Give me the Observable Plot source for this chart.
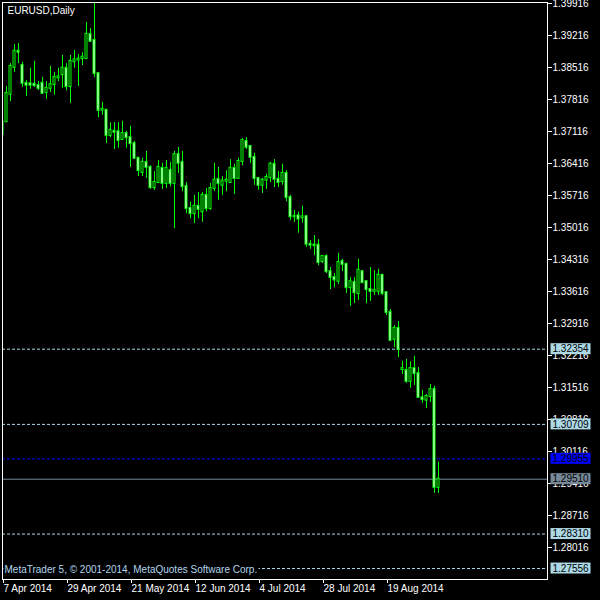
<!DOCTYPE html>
<html>
<head>
<meta charset="utf-8">
<script src="https://cdn.jsdelivr.net/npm/d3@7"></script>
<script src="https://cdn.jsdelivr.net/npm/@observablehq/plot@0.6"></script>
<style>
  html, body { margin: 0; padding: 0; background: #000; }
  svg { display: block; }
</style>
</head>
<body>
<div id="chart"></div>
<script>
// ---- data (EURUSD daily, 7 Apr 2014 - 5 Sep 2014) ----
const dates = [
"2014-04-07","2014-04-08","2014-04-09","2014-04-10","2014-04-11",
"2014-04-14","2014-04-15","2014-04-16","2014-04-17","2014-04-18",
"2014-04-21","2014-04-22","2014-04-23","2014-04-24","2014-04-25",
"2014-04-28","2014-04-29","2014-04-30","2014-05-01","2014-05-02",
"2014-05-05","2014-05-06","2014-05-07","2014-05-08","2014-05-09",
"2014-05-12","2014-05-13","2014-05-14","2014-05-15","2014-05-16",
"2014-05-19","2014-05-20","2014-05-21","2014-05-22","2014-05-23",
"2014-05-26","2014-05-27","2014-05-28","2014-05-29","2014-05-30",
"2014-06-02","2014-06-03","2014-06-04","2014-06-05","2014-06-06",
"2014-06-09","2014-06-10","2014-06-11","2014-06-12","2014-06-13",
"2014-06-16","2014-06-17","2014-06-18","2014-06-19","2014-06-20",
"2014-06-23","2014-06-24","2014-06-25","2014-06-26","2014-06-27",
"2014-06-30","2014-07-01","2014-07-02","2014-07-03","2014-07-04",
"2014-07-07","2014-07-08","2014-07-09","2014-07-10","2014-07-11",
"2014-07-14","2014-07-15","2014-07-16","2014-07-17","2014-07-18",
"2014-07-21","2014-07-22","2014-07-23","2014-07-24","2014-07-25",
"2014-07-28","2014-07-29","2014-07-30","2014-07-31","2014-08-01",
"2014-08-04","2014-08-05","2014-08-06","2014-08-07","2014-08-08",
"2014-08-11","2014-08-12","2014-08-13","2014-08-14","2014-08-15",
"2014-08-18","2014-08-19","2014-08-20","2014-08-21","2014-08-22",
"2014-08-25","2014-08-26","2014-08-27","2014-08-28","2014-08-29",
"2014-09-01","2014-09-02","2014-09-03","2014-09-04","2014-09-05"
];
const open = [
1.3705,1.3733,1.3793,1.3852,1.3887, 1.3856,1.3817,1.3816,1.3815,1.3812,
1.3817,1.3797,1.3806,1.3814,1.3829, 1.3836,1.3850,1.3810,1.3864,1.3868,
1.3871,1.3871,1.3924,1.3911,1.3838, 1.3758,1.3758,1.3703,1.3712,1.3711,
1.3694,1.3707,1.3698,1.3685,1.3653, 1.3622,1.3644,1.3633,1.3589,1.3600,
1.3631,1.3598,1.3626,1.3598,1.3661, 1.3644,1.3591,1.3543,1.3532,1.3548,
1.3536,1.3572,1.3543,1.3587,1.3607, 1.3594,1.3603,1.3600,1.3631,1.3609,
1.3646,1.3690,1.3679,1.3655,1.3609, 1.3594,1.3605,1.3611,1.3640,1.3607,
1.3602,1.3620,1.3567,1.3525,1.3527, 1.3523,1.3525,1.3465,1.3463,1.3463,
1.3427,1.3438,1.3405,1.3392,1.3384, 1.3427,1.3421,1.3370,1.3381,1.3357,
1.3405,1.3383,1.3366,1.3362,1.3362, 1.3397,1.3359,1.3316,1.3257,1.3281,
1.3191,1.3189,1.3165,1.3193,1.3182, 1.3129,1.3124,1.3132,1.3147,1.2933
];
const high = [
1.3740,1.3810,1.3860,1.3902,1.3904, 1.3863,1.3823,1.3850,1.3865,1.3821,
1.3830,1.3821,1.3854,1.3841,1.3850, 1.3878,1.3860,1.3878,1.3889,1.3880,
1.3884,1.3950,1.3937,1.3992,1.3841, 1.3775,1.3760,1.3731,1.3731,1.3731,
1.3734,1.3712,1.3723,1.3690,1.3655, 1.3653,1.3668,1.3637,1.3624,1.3648,
1.3642,1.3648,1.3644,1.3668,1.3677, 1.3668,1.3600,1.3557,1.3572,1.3578,
1.3578,1.3587,1.3598,1.3642,1.3633, 1.3613,1.3626,1.3650,1.3640,1.3653,
1.3696,1.3698,1.3681,1.3664,1.3611, 1.3609,1.3618,1.3644,1.3650,1.3624,
1.3640,1.3626,1.3572,1.3539,1.3535, 1.3548,1.3528,1.3473,1.3484,1.3475,
1.3440,1.3442,1.3414,1.3401,1.3445, 1.3432,1.3423,1.3392,1.3392,1.3432,
1.3407,1.3385,1.3414,1.3407,1.3410, 1.3399,1.3360,1.3322,1.3287,1.3296,
1.3209,1.3213,1.3208,1.3220,1.3195, 1.3145,1.3136,1.3158,1.3154,1.2988
];
const low = [
1.3698,1.3731,1.3777,1.3841,1.3860, 1.3808,1.3788,1.3804,1.3808,1.3801,
1.3793,1.3782,1.3797,1.3791,1.3821, 1.3806,1.3801,1.3773,1.3850,1.3810,
1.3856,1.3869,1.3907,1.3830,1.3742, 1.3747,1.3685,1.3698,1.3672,1.3675,
1.3692,1.3675,1.3633,1.3650,1.3613, 1.3613,1.3609,1.3585,1.3583,1.3598,
1.3585,1.3587,1.3591,1.3499,1.3620, 1.3580,1.3532,1.3521,1.3510,1.3521,
1.3513,1.3536,1.3539,1.3580,1.3561, 1.3572,1.3580,1.3598,1.3574,1.3609,
1.3637,1.3672,1.3642,1.3594,1.3583, 1.3576,1.3585,1.3600,1.3589,1.3589,
1.3594,1.3558,1.3517,1.3513,1.3489, 1.3511,1.3458,1.3454,1.3440,1.3418,
1.3423,1.3401,1.3366,1.3370,1.3377, 1.3405,1.3357,1.3329,1.3335,1.3342,
1.3379,1.3335,1.3340,1.3353,1.3353, 1.3353,1.3309,1.3252,1.3239,1.3217,
1.3180,1.3161,1.3150,1.3156,1.3130, 1.3117,1.3106,1.3119,1.2920,1.2920
];
const close = [
1.3732,1.3795,1.3854,1.3887,1.3885, 1.3817,1.3813,1.3813,1.3812,1.3806,
1.3795,1.3806,1.3814,1.3830,1.3831, 1.3850,1.3810,1.3865,1.3868,1.3870,
1.3874,1.3924,1.3909,1.3838,1.3758, 1.3760,1.3703,1.3714,1.3710,1.3692,
1.3707,1.3698,1.3685,1.3653,1.3626, 1.3644,1.3633,1.3589,1.3600,1.3633,
1.3598,1.3631,1.3598,1.3661,1.3642, 1.3591,1.3543,1.3532,1.3548,1.3541,
1.3572,1.3543,1.3587,1.3605,1.3598, 1.3603,1.3605,1.3631,1.3609,1.3646,
1.3692,1.3677,1.3655,1.3609,1.3594, 1.3605,1.3611,1.3640,1.3607,1.3600,
1.3620,1.3567,1.3525,1.3526,1.3520, 1.3525,1.3465,1.3463,1.3462,1.3425,
1.3438,1.3405,1.3392,1.3387,1.3425, 1.3421,1.3370,1.3383,1.3359,1.3408,
1.3381,1.3366,1.3362,1.3364,1.3397, 1.3357,1.3316,1.3255,1.3281,1.3235,
1.3193,1.3165,1.3193,1.3182,1.3130, 1.3125,1.3132,1.3147,1.2933,1.2951
];

// price-scale tick labels
const priceTicks = [1.39916,1.39216,1.38516,1.37816,1.37116,1.36416,1.35716,1.35016,
  1.34316,1.33616,1.32916,1.32216,1.31516,1.30816,1.30116,1.29416,1.28716,1.28016];
// date-scale tick labels
const dateTicks = ["2014-04-07","2014-04-29","2014-05-21","2014-06-12","2014-07-04","2014-07-28","2014-08-19"];
const dateTickLabels = ["7 Apr 2014","29 Apr 2014","21 May 2014","12 Jun 2014","4 Jul 2014","28 Jul 2014","19 Aug 2014"];

// horizontal levels
const levelPrices = [1.32354, 1.30709, 1.29955, 1.29510, 1.28310, 1.27556];
const levelKinds  = ["level","level","bid","last","level","level"];

const symbolTitle = "EURUSD,Daily";
const copyright = "MetaTrader 5, \u00A9 2001-2014, MetaQuotes Software Corp.";

// ---- build ----
const bars = dates.map((d, i) => ({i, date: d, o: open[i], h: high[i], l: low[i], c: close[i]}));
const idxOf = new Map(dates.map((d, i) => [d, i]));
const tickIdx = dateTicks.map(d => idxOf.get(d));
const tickLabelOf = new Map(tickIdx.map((k, j) => [k, dateTickLabels[j]]));
const levels = levelPrices.map((p, j) => ({p, kind: levelKinds[j]}));

const kindBox  = {level: "#add8e6", bid: "#0000ff", last: "#778899"};
const kindLine = {level: "#add8e6", bid: "#0000ff", last: "#778899"};
const GREEN = "#00ff00";

const chart = Plot.plot({
  width: 600,
  height: 600,
  marginLeft: 2,
  marginRight: 53,
  marginTop: 2,
  marginBottom: 21,
  style: {background: "#000", color: "#fff", fontFamily: "'Liberation Sans', Arial, sans-serif", fontSize: "10px"},
  x: {domain: [0, 136.25], axis: null, label: null},
  y: {domain: [1.27316, 1.39938], axis: null, label: null},
  marks: [
    // level lines
    Plot.ruleY(levels.filter(d => d.kind === "level"), {y: "p", stroke: kindLine.level, strokeDasharray: "3,2"}),
    Plot.ruleY(levels.filter(d => d.kind === "bid"), {y: "p", stroke: kindLine.bid, strokeDasharray: "3,2"}),
    Plot.ruleY(levels.filter(d => d.kind === "last"), {y: "p", stroke: kindLine.last}),
    // candles
    Plot.ruleX(bars, {x: "i", y1: "l", y2: "h", stroke: GREEN, clip: true}),
    Plot.rect(bars, {
      x1: d => d.i - 0.25, x2: d => d.i + 0.25,
      y1: "o", y2: "c",
      insetTop: -0.5, insetBottom: -0.5,
      fill: d => d.c < d.o ? "#fff" : "#000",
      stroke: GREEN, clip: true
    }),
    // copyright
    Plot.text([copyright], {frameAnchor: "bottom-left", dx: 2, dy: -10, lineAnchor: "middle", textAnchor: "start", fill: "#b4d6ee", className: "copyright-text"}),
    // frame & axes
    Plot.frame({stroke: "#fff"}),
    Plot.axisY(priceTicks, {anchor: "right", label: null, tickSize: 4, tickPadding: 1, tickFormat: d => d.toFixed(5), stroke: "#fff", fill: "#fff"}),
    Plot.axisX(tickIdx, {anchor: "bottom", label: null, tickSize: 4, tickPadding: 1, tickFormat: d => tickLabelOf.get(d), textAnchor: "start", dx: 1, stroke: "#fff", fill: "#fff"}),
    // level labels
    Plot.text(levels, {y: "p", text: d => d.p.toFixed(5), frameAnchor: "right", textAnchor: "start", dx: 5, fill: "#000", className: "level-text"}),
    // title
    Plot.text([symbolTitle], {frameAnchor: "top-left", dx: 5, dy: 4, lineAnchor: "top", textAnchor: "start", fill: "#fff"})
  ]
});
document.getElementById("chart").appendChild(chart);

// find the <text> elements of a text mark by its text content
function textsMatching(strings) {
  const set = new Set(strings);
  return Array.from(chart.querySelectorAll("text")).filter(t => set.has(t.textContent));
}
// label boxes behind the level texts and the copyright
function boxBehind(texts, fills, padL, padR) {
  texts.forEach((t, j) => {
    const b = t.getBBox();
    const r = document.createElementNS("http://www.w3.org/2000/svg", "rect");
    r.setAttribute("x", Math.round(b.x - padL));
    r.setAttribute("y", Math.round(b.y));
    r.setAttribute("width", Math.round(b.width + padL + padR));
    r.setAttribute("height", Math.round(b.height));
    r.setAttribute("fill", fills(t, j));
    if (t.getAttribute("transform")) r.setAttribute("transform", t.getAttribute("transform"));
    t.parentNode.insertBefore(r, t);
  });
}
const levelStrings = levels.map(d => d.p.toFixed(5));
// only the level-label texts (fill black), not the axis tick labels
const levelTexts = textsMatching(levelStrings).filter(t => {
  const f = t.getAttribute("fill") || (t.parentNode && t.parentNode.getAttribute("fill"));
  return f === "#000";
});
boxBehind(levelTexts, t => kindBox[levels[levelStrings.indexOf(t.textContent)].kind], 2, 1);
boxBehind(textsMatching([copyright]), () => "#000", 1, 1);
</script>
</body>
</html>
